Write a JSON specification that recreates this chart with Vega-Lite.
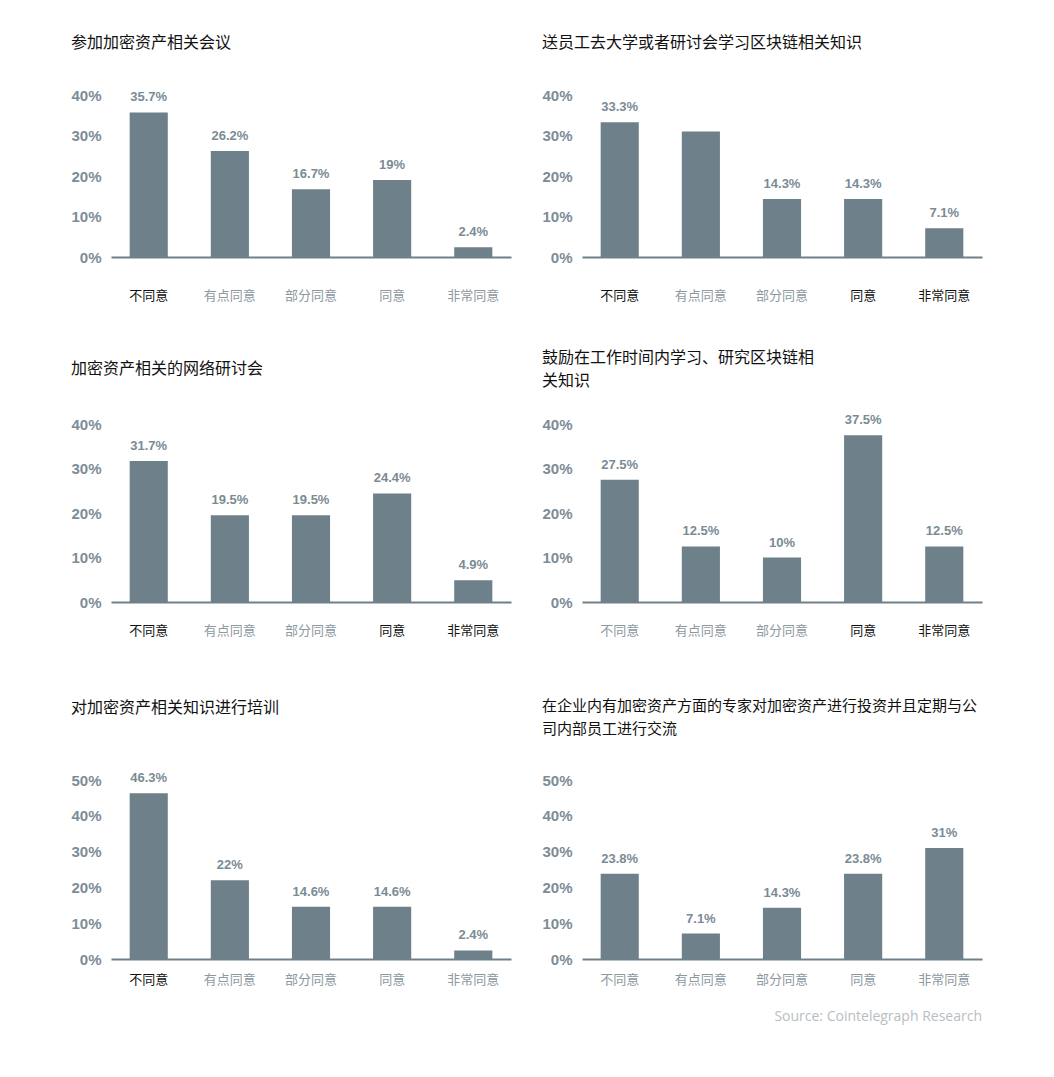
{
  "$schema": "https://vega.github.io/schema/vega-lite/v6.json",
  "background": "#ffffff",
  "padding": {"left": 70, "top": 35, "right": 60, "bottom": 20},
  "title": {
    "text": "Source: Cointelegraph Research",
    "orient": "bottom",
    "anchor": "end",
    "font": "Open Sans",
    "fontSize": 14,
    "fontWeight": "normal",
    "color": "#b7bec3",
    "offset": 24
  },
  "datasets": {
    "p1": [
      {"category": "不同意", "value": 35.7, "label": "35.7%"},
      {"category": "有点同意", "value": 26.2, "label": "26.2%"},
      {"category": "部分同意", "value": 16.7, "label": "16.7%"},
      {"category": "同意", "value": 19, "label": "19%"},
      {"category": "非常同意", "value": 2.4, "label": "2.4%"}
    ],
    "p2": [
      {"category": "不同意", "value": 33.3, "label": "33.3%"},
      {"category": "有点同意", "value": 31, "label": ""},
      {"category": "部分同意", "value": 14.3, "label": "14.3%"},
      {"category": "同意", "value": 14.3, "label": "14.3%"},
      {"category": "非常同意", "value": 7.1, "label": "7.1%"}
    ],
    "p3": [
      {"category": "不同意", "value": 31.7, "label": "31.7%"},
      {"category": "有点同意", "value": 19.5, "label": "19.5%"},
      {"category": "部分同意", "value": 19.5, "label": "19.5%"},
      {"category": "同意", "value": 24.4, "label": "24.4%"},
      {"category": "非常同意", "value": 4.9, "label": "4.9%"}
    ],
    "p4": [
      {"category": "不同意", "value": 27.5, "label": "27.5%"},
      {"category": "有点同意", "value": 12.5, "label": "12.5%"},
      {"category": "部分同意", "value": 10, "label": "10%"},
      {"category": "同意", "value": 37.5, "label": "37.5%"},
      {"category": "非常同意", "value": 12.5, "label": "12.5%"}
    ],
    "p5": [
      {"category": "不同意", "value": 46.3, "label": "46.3%"},
      {"category": "有点同意", "value": 22, "label": "22%"},
      {"category": "部分同意", "value": 14.6, "label": "14.6%"},
      {"category": "同意", "value": 14.6, "label": "14.6%"},
      {"category": "非常同意", "value": 2.4, "label": "2.4%"}
    ],
    "p6": [
      {"category": "不同意", "value": 23.8, "label": "23.8%"},
      {"category": "有点同意", "value": 7.1, "label": "7.1%"},
      {"category": "部分同意", "value": 14.3, "label": "14.3%"},
      {"category": "同意", "value": 23.8, "label": "23.8%"},
      {"category": "非常同意", "value": 31, "label": "31%"}
    ]
  },
  "vconcat": [
    {
      "spacing": 48,
      "vconcat": [
        {
          "hconcat": [
            {
              "data": {"name": "p1"},
              "title": {"text": "参加加密资产相关会议", "offset": 37},
              "width": 400,
              "height": 162,
              "encoding": {
                "x": {"field": "category", "type": "nominal", "sort": ["不同意", "有点同意", "部分同意", "同意", "非常同意"],
                  "axis": {"labelPadding": 32, "labelColor": {"condition": {"test": "datum.value === '不同意'", "value": "#111111"}, "value": "#8d989f"}}},
                "y": {"field": "value", "type": "quantitative", "scale": {"domain": [0, 40]}, "axis": {"values": [0, 10, 20, 30, 40]}}
              },
              "layer": [
                {"mark": {"type": "bar"}},
                {"mark": {"type": "text"}, "encoding": {"text": {"field": "label"}}}
              ]
            },
            {
              "data": {"name": "p2"},
              "title": {"text": "送员工去大学或者研讨会学习区块链相关知识", "offset": 37},
              "width": 400,
              "height": 162,
              "encoding": {
                "x": {"field": "category", "type": "nominal", "sort": ["不同意", "有点同意", "部分同意", "同意", "非常同意"],
                  "axis": {"labelPadding": 32, "labelColor": {"condition": {"test": "indexof(['不同意','同意','非常同意'], datum.value) >= 0", "value": "#111111"}, "value": "#8d989f"}}},
                "y": {"field": "value", "type": "quantitative", "scale": {"domain": [0, 40]}, "axis": {"values": [0, 10, 20, 30, 40]}}
              },
              "layer": [
                {"mark": {"type": "bar"}},
                {"mark": {"type": "text"}, "encoding": {"text": {"field": "label"}}}
              ]
            }
          ]
        },
        {
          "hconcat": [
            {
              "data": {"name": "p3"},
              "title": {"text": "加密资产相关的网络研讨会", "offset": 40},
              "width": 400,
              "height": 178,
              "encoding": {
                "x": {"field": "category", "type": "nominal", "sort": ["不同意", "有点同意", "部分同意", "同意", "非常同意"],
                  "axis": {"labelPadding": 22, "labelColor": {"condition": {"test": "indexof(['不同意','同意','非常同意'], datum.value) >= 0", "value": "#111111"}, "value": "#8d989f"}}},
                "y": {"field": "value", "type": "quantitative", "scale": {"domain": [0, 40]}, "axis": {"values": [0, 10, 20, 30, 40]}}
              },
              "layer": [
                {"mark": {"type": "bar"}},
                {"mark": {"type": "text"}, "encoding": {"text": {"field": "label"}}}
              ]
            },
            {
              "data": {"name": "p4"},
              "title": {"text": ["鼓励在工作时间内学习、研究区块链相", "关知识"], "offset": 25},
              "width": 400,
              "height": 178,
              "encoding": {
                "x": {"field": "category", "type": "nominal", "sort": ["不同意", "有点同意", "部分同意", "同意", "非常同意"],
                  "axis": {"labelPadding": 22, "labelColor": {"condition": {"test": "indexof(['同意','非常同意'], datum.value) >= 0", "value": "#111111"}, "value": "#8d989f"}}},
                "y": {"field": "value", "type": "quantitative", "scale": {"domain": [0, 40]}, "axis": {"values": [0, 10, 20, 30, 40]}}
              },
              "layer": [
                {"mark": {"type": "bar"}},
                {"mark": {"type": "text"}, "encoding": {"text": {"field": "label"}}}
              ]
            }
          ]
        }
      ]
    },
    {
      "hconcat": [
        {
          "data": {"name": "p5"},
          "title": {"text": "对加密资产相关知识进行培训", "offset": 56},
          "width": 400,
          "height": 179,
          "encoding": {
            "x": {"field": "category", "type": "nominal", "sort": ["不同意", "有点同意", "部分同意", "同意", "非常同意"],
              "axis": {"labelPadding": 14, "labelColor": {"condition": {"test": "datum.value === '不同意'", "value": "#111111"}, "value": "#8d989f"}}},
            "y": {"field": "value", "type": "quantitative", "scale": {"domain": [0, 50]}, "axis": {"values": [0, 10, 20, 30, 40, 50]}}
          },
          "layer": [
            {"mark": {"type": "bar"}},
            {"mark": {"type": "text"}, "encoding": {"text": {"field": "label"}}}
          ]
        },
        {
          "data": {"name": "p6"},
          "title": {"text": ["在企业内有加密资产方面的专家对加密资产进行投资并且定期与公", "司内部员工进行交流"], "offset": 36, "fontSize": 15},
          "width": 400,
          "height": 179,
          "encoding": {
            "x": {"field": "category", "type": "nominal", "sort": ["不同意", "有点同意", "部分同意", "同意", "非常同意"],
              "axis": {"labelPadding": 14, "labelColor": "#8d989f"}},
            "y": {"field": "value", "type": "quantitative", "scale": {"domain": [0, 50]}, "axis": {"values": [0, 10, 20, 30, 40, 50]}}
          },
          "layer": [
            {"mark": {"type": "bar"}},
            {"mark": {"type": "text"}, "encoding": {"text": {"field": "label"}}}
          ]
        }
      ]
    }
  ],
  "spacing": 62,
  "config": {
    "concat": {"spacing": 30},
    "view": {"stroke": null},
    "title": {"anchor": "start", "font": "Noto Sans CJK SC", "fontSize": 16, "fontWeight": "normal", "color": "#111111", "lineHeight": 23},
    "scale": {"bandPaddingInner": 0.53, "bandPaddingOuter": 0.23},
    "bar": {"color": "#6e8089"},
    "text": {"color": "#7b8b95", "font": "Liberation Sans", "fontSize": 13, "fontWeight": "bold", "baseline": "bottom", "dy": -8},
    "axis": {"grid": false, "ticks": false, "title": null},
    "axisX": {"labelAngle": 0, "labelFont": "Noto Sans CJK SC", "labelFontSize": 13, "domainColor": "#6e8089", "domainWidth": 2},
    "axisY": {"domain": false, "labelFont": "Liberation Sans", "labelFontSize": 15, "labelFontWeight": "bold", "labelColor": "#7d8c96", "labelPadding": 10, "labelExpr": "datum.value + '%'"}
  }
}
